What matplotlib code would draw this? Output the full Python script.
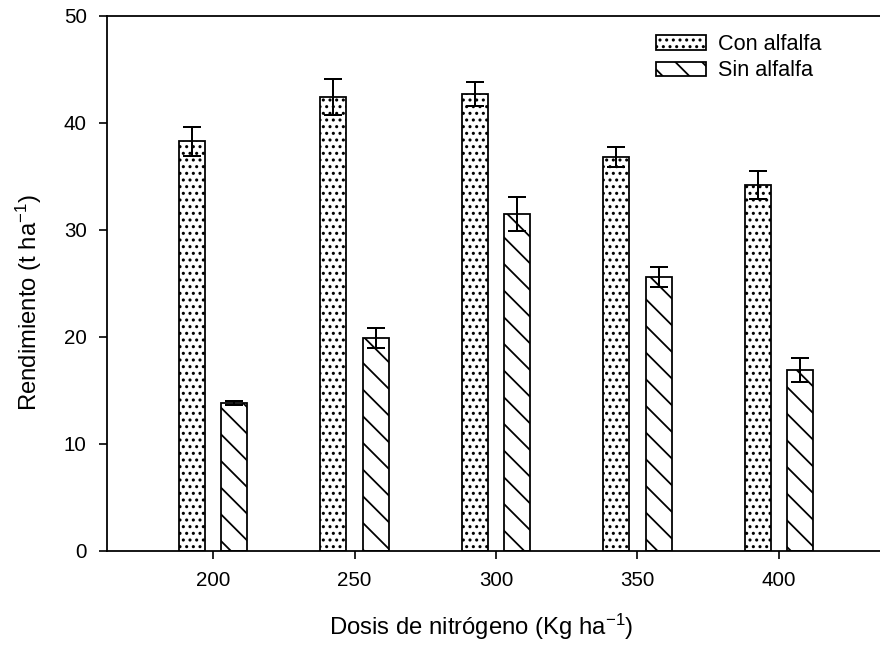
import matplotlib
matplotlib.use('Agg')
import matplotlib.pyplot as plt
import numpy as np

doses = [200, 250, 300, 350, 400]
con_alfalfa = [38.3, 42.4, 42.7, 36.85, 34.2]
con_err = [1.35, 1.7, 1.15, 0.95, 1.3]
sin_alfalfa = [13.8, 19.9, 31.5, 25.6, 16.9]
sin_err = [0.2, 0.9, 1.6, 0.95, 1.1]
y_ticks = [0, 10, 20, 30, 40, 50]

plt.rcParams['font.family'] = ['Liberation Sans', 'DejaVu Sans']
plt.rcParams['mathtext.fontset'] = 'custom'
plt.rcParams['mathtext.rm'] = 'Liberation Sans'
plt.rcParams['mathtext.it'] = 'Liberation Sans:italic'
plt.rcParams['hatch.linewidth'] = 1.6

fig = plt.figure(figsize=(11, 8.0875), dpi=80)
ax = fig.add_axes([0.1212, 0.1484, 0.8788, 0.8269])

x = np.array(doses, float)
w = 9.2
off = 7.5
ekw = dict(elinewidth=1.8, capsize=8, capthick=1.8, ecolor='black')
ax.bar(x - off, con_alfalfa, w, yerr=con_err, facecolor='white', edgecolor='black',
       linewidth=1.6, hatch='..', label='Con alfalfa', error_kw=ekw)
ax.bar(x + off, sin_alfalfa, w, yerr=sin_err, facecolor='white', edgecolor='black',
       linewidth=1.6, hatch='\\', label='Sin alfalfa', error_kw=ekw)

ax.set_xlim(162.4, 435.7)
ax.set_ylim(0, 50)
ax.set_xticks(doses)
ax.set_xticklabels([str(d) for d in doses])
ax.set_yticks(y_ticks)
ax.spines['right'].set_visible(False)
for s in ['left', 'top', 'bottom']:
    ax.spines[s].set_linewidth(1.6)
ax.tick_params(direction='out', length=7, width=1.5, labelsize=18.5, pad=11)

ax.set_xlabel('Dosis de nitrógeno (Kg ha$^{-1}$)', fontsize=21.5, labelpad=20)
ax.set_ylabel('Rendimiento (t ha$^{-1}$)', fontsize=21.5, labelpad=18)
ax.xaxis.label.set_x(0.485)
ax.yaxis.label.set_y(0.465)

ax.legend(loc='upper left', bbox_to_anchor=(656 / 880, 1 - 34 / 647),
          bbox_transform=fig.transFigure, frameon=False, fontsize=19.5,
          handlelength=2.3, handleheight=0.65, handletextpad=0.55,
          labelspacing=0.25, borderpad=0, borderaxespad=0)

fig.savefig('out.png', dpi=80)
